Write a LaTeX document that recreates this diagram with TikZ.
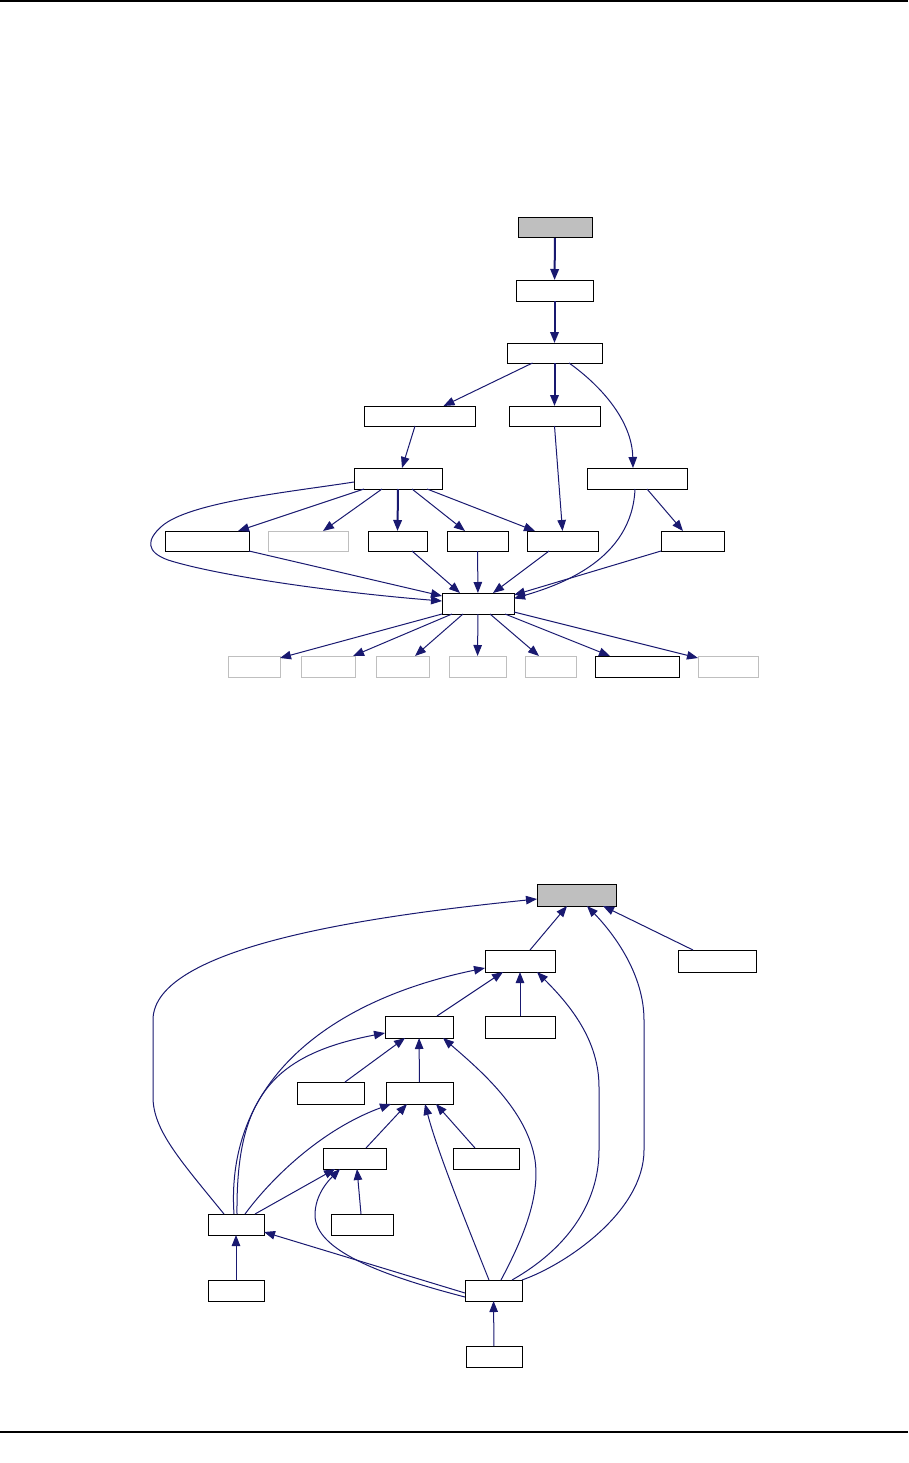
\documentclass[tikz,border=0pt]{standalone}
\usetikzlibrary{arrows.meta}
\definecolor{edgeblue}{RGB}{25,25,112}
\definecolor{boxgray}{RGB}{191,191,191}
\begin{document}
\begin{tikzpicture}[x=1pt,y=-1pt,
  n/.style={rectangle,draw=black,fill=white,line width=1pt,inner sep=0pt,outer sep=0pt,minimum height=21pt},
  r/.style={n,fill=boxgray},
  u/.style={n,draw=boxgray},
  e/.style={edgeblue,line width=1pt,-{Triangle[length=11pt,width=8.5pt]}},
  et/.style={e,line width=2pt},
  rule/.style={line width=1.2pt}]
  \useasboundingbox (0,0) rectangle (908,1463);
  \draw[rule] (0,1) -- (908,1);
  \draw[rule] (0,1432) -- (908,1432);
  % include graph
  \node[r,minimum width=74,minimum height=20] (ta) at (555,228) {};
  \node[n,minimum width=77] (tb) at (554.5,290.5) {};
  \node[n,minimum width=95,minimum height=20] (tc) at (554.5,353) {};
  \node[n,minimum width=111,minimum height=20] (td) at (419.5,416) {};
  \node[n,minimum width=91,minimum height=20] (te) at (554.5,416) {};
  \node[n,minimum width=88] (tf) at (398,478.5) {};
  \node[n,minimum width=100] (ti) at (637,478.5) {};
  \foreach \nm/\xx/\ww/\st in {tg1/207/84/n,tg2/308/80/u,tg3/397.5/59/n,tg4/477.5/61/n,tg5/562.5/71/n,tg6/692.5/63/n}
    \node[\st,minimum width=\ww,minimum height=20] (\nm) at (\xx,541) {};
  \node[n,minimum width=72] (th) at (478,603.5) {};
  \foreach \nm/\xx/\ww/\st in {tk1/254/52/u,tk2/328/54/u,tk3/402.5/53/u,tk4/477.5/57/u,tk5/550.5/51/u,tk6/637/84/n,tk7/728/60/u}
    \node[\st,minimum width=\ww] (\nm) at (\xx,666.5) {};
  \draw[et] (ta) -- (tb);
  \draw[et] (tb) -- (tc);
  \draw[e] ([xshift=-22pt]tc.south) -- ([xshift=24pt]td.north);
  \draw[et] (tc) -- (te);
  \draw[e] ([xshift=14.5pt]tc.south) .. controls (600,385) and (632,420) .. ([xshift=-4pt]ti.north);
  \draw[e] ([xshift=-4.5pt]td.south) -- ([xshift=4pt]tf.north);
  \draw[e] (te.south) -- (tg5.north);
  \draw[e] ([xshift=-34pt]tf.south) -- ([xshift=31pt]tg1.north);
  \draw[e] ([xshift=-16pt]tf.south) -- ([xshift=15pt]tg2.north);
  \draw[et] (tf.south) -- (tg3.north);
  \draw[e] ([xshift=14pt]tf.south) -- ([xshift=-12.5pt]tg4.north);
  \draw[e] ([xshift=29pt]tf.south) -- ([xshift=-27.5pt]tg5.north);
  \draw[e] ([yshift=-3.5pt]tf.west) .. controls (290,492) and (190,502) .. (162,526)
    .. controls (146,540) and (146,552) .. (168,560) .. controls (215,575) and (330,592) .. ([yshift=2.5pt]th.west);
  \draw[e] (tg1.south east) -- ([yshift=-3pt]th.north west);
  \draw[e] ([xshift=14.5pt]tg3.south) -- ([xshift=-18pt]th.north);
  \draw[e] (tg4) -- (th);
  \draw[e] ([xshift=-13.5pt]tg5.south) -- ([xshift=15pt]th.north);
  \draw[e] ([xshift=-2pt]ti.south) .. controls (632,560) and (560,585) .. ([yshift=5pt]th.east);
  \draw[e] (tg6.south west) -- ([yshift=-2pt]th.north east);
  \draw[e] ([xshift=10pt]ti.south) -- ([xshift=-9.5pt]tg6.north);
  \draw[e] (th.south west) -- ([yshift=-2pt]tk1.north east);
  \draw[e] ([xshift=-26pt]th.south) -- ([xshift=-2pt]tk2.north east);
  \draw[e] ([xshift=-15pt]th.south) -- ([xshift=12.5pt]tk3.north);
  \draw[e] (th) -- (tk4);
  \draw[e] ([xshift=12pt]th.south) -- ([xshift=-11.5pt]tk5.north);
  \draw[e] ([xshift=27pt]th.south) -- ([xshift=-27pt]tk6.north);
  \draw[e] ([yshift=-8.5pt]th.east) -- ([yshift=-2pt]tk7.north west);
  % included-by graph
  \node[r,minimum width=79,minimum height=22] (ba) at (576.5,895) {};
  \node[n,minimum width=70,minimum height=22] (bk) at (520,961) {};
  \node[n,minimum width=78,minimum height=22] (bl) at (717,961) {};
  \node[n,minimum width=68,minimum height=22] (bp) at (419,1027) {};
  \node[n,minimum width=70,minimum height=22] (bm) at (520,1027) {};
  \node[n,minimum width=67,minimum height=22] (bq) at (330.5,1093) {};
  \node[n,minimum width=67,minimum height=22] (br) at (419.5,1093) {};
  \node[n,minimum width=63] (bs) at (354.5,1158.5) {};
  \node[n,minimum width=66] (bt) at (486,1158.5) {};
  \node[n,minimum width=56] (bu) at (236,1224.5) {};
  \node[n,minimum width=62] (bv) at (362,1224.5) {};
  \node[n,minimum width=56] (bw) at (236,1290.5) {};
  \node[n,minimum width=57] (bx) at (493.5,1290.5) {};
  \node[n,minimum width=56] (by) at (494,1356.5) {};
  \draw[e] ([xshift=10pt]bk.north) -- ([xshift=-9.5pt]ba.south);
  \draw[e] ([xshift=-24pt]bl.north) -- ([xshift=26.5pt]ba.south);
  \draw[e] (bx.north east) .. controls (565,1265) and (644,1212) .. (644,1150) -- (644,1020)
    .. controls (644,975) and (615,935) .. ([xshift=10.5pt]ba.south);
  \draw[e] ([xshift=18.5pt]bx.north) .. controls (565,1250) and (599,1205) .. (599,1150) -- (599,1087)
    .. controls (599,1040) and (570,1005) .. ([xshift=17pt]bk.south);
  \draw[e] ([xshift=7.5pt]bx.north) .. controls (525,1235) and (540,1195) .. (535,1160)
    .. controls (527,1110) and (480,1070) .. ([xshift=-10pt]bp.south east);
  \draw[e] ([xshift=-4.5pt]bx.north) .. controls (465,1220) and (437,1150) .. ([xshift=5.5pt]br.south);
  \draw[e] ([yshift=-6.5pt]bx.west) .. controls (380,1275) and (315,1250) .. (315,1215)
    .. controls (315,1195) and (328,1181) .. ([xshift=-14.5pt]bs.south);
  \draw[e] ([yshift=-2.5pt]bx.west) -- ([yshift=-7.5pt]bu.east);
  \draw[e] (bw) -- (bu);
  \draw[e] ([xshift=-1pt]bv.north) -- ([xshift=2.5pt]bs.south);
  \draw[e] ([xshift=19pt]bu.north) -- ([xshift=-19.5pt]bs.south);
  \draw[e] ([xshift=9pt]bu.north) .. controls (270,1180) and (320,1130) .. ([xshift=5pt]br.south west);
  \draw[e] ([xshift=1pt]bu.north) .. controls (236,1100) and (270,1055) .. ([yshift=-6pt]bp.west);
  \draw[e] ([xshift=-2pt]bu.north) .. controls (225,1080) and (330,1000) .. ([yshift=-7pt]bk.west);
  \draw[e] ([xshift=-12pt]bu.north) .. controls (180,1160) and (153,1130) .. (153,1097) -- (153,1020)
    .. controls (153,945) and (380,915) .. ([yshift=-4pt]ba.west);
  \draw[e] ([xshift=18pt]bp.north) -- ([xshift=-17pt]bk.south);
  \draw[e] (bm) -- (bk);
  \draw[e] ([xshift=14.5pt]bq.north) -- ([xshift=-14pt]bp.south);
  \draw[e] (br) -- (bp);
  \draw[e] ([xshift=-11pt]bt.north) -- ([xshift=16.5pt]br.south);
  \draw[e] ([xshift=11.5pt]bs.north) -- ([xshift=-12.5pt]br.south);
  \draw[e] (by) -- (bx);
\end{tikzpicture}
\end{document}
